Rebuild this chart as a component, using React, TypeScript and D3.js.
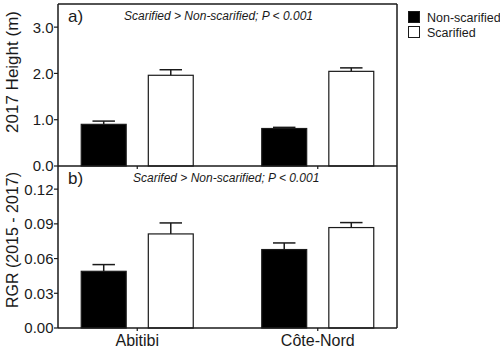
import React from 'react';
import * as d3 from 'd3';

const sites = ['Abitibi', 'Côte-Nord'];
const treatments = ['Non-scarified', 'Scarified'];

// panel a: 2017 height (m)
const heightMean = [
  [0.9, 1.96],
  [0.81, 2.045],
];
const heightErr = [
  [0.07, 0.12],
  [0.025, 0.075],
];

// panel b: RGR 2015-2017
const rgrMean = [
  [0.049, 0.0813],
  [0.0678, 0.0868],
];
const rgrErr = [
  [0.0058, 0.0095],
  [0.0057, 0.0043],
];

const heightTicks = [0, 1, 2, 3];
const rgrTicks = [0, 0.03, 0.06, 0.09, 0.12];

const W = 500;
const H = 350;
const left = 58;
const right = 397;
const topA = 4;
const mid = 166;
const bottom = 328;
const font = "'Liberation Sans', Arial, sans-serif";
const ink = '#1a1a1a';

const xScale = d3.scalePoint<string>().domain(sites).range([left, right]).padding(0.439);
const xSub = d3.scaleBand<string>().domain(treatments).range([-56, 56]).paddingInner(0.33);
const fill = d3.scaleOrdinal<string, string>().domain(treatments).range(['#000000', '#ffffff']);

interface PanelProps {
  y: d3.ScaleLinear<number, number>;
  means: number[][];
  errs: number[][];
  ticks: number[];
  fmt: (v: number) => string;
  tag: string;
  note: string;
  noteX: number;
  title: string;
  titleSize: number;
  titleY: number;
  showTop: boolean;
}

const Panel: React.FC<PanelProps> = ({
  y, means, errs, ticks, fmt, tag, note, noteX, title, titleSize, titleY, showTop,
}) => {
  const [y0, y1] = y.range();
  const bw = xSub.bandwidth();
  return (
    <g>
      {sites.map((s, i) =>
        treatments.map((t, j) => {
          const cx = (xScale(s) as number) + (xSub(t) as number) + bw / 2;
          const top = y(means[i][j]);
          const et = y(means[i][j] + errs[i][j]);
          return (
            <g key={s + t}>
              <line x1={cx} x2={cx} y1={top} y2={et} stroke={ink} strokeWidth={1.5} />
              <line x1={cx - bw / 4} x2={cx + bw / 4} y1={et} y2={et} stroke={ink} strokeWidth={1.5} />
              <rect
                x={cx - bw / 2}
                y={top}
                width={bw}
                height={y0 - top}
                fill={fill(t)}
                stroke={ink}
                strokeWidth={1.2}
              />
            </g>
          );
        })
      )}
      {/* frame */}
      <line x1={left} x2={left} y1={y1} y2={y0} stroke={ink} strokeWidth={1.5} />
      <line x1={right} x2={right} y1={y1} y2={y0} stroke={ink} strokeWidth={1.5} />
      <line x1={left} x2={right} y1={y0} y2={y0} stroke={ink} strokeWidth={1.5} />
      {showTop && <line x1={left} x2={right} y1={y1} y2={y1} stroke={ink} strokeWidth={1.5} />}
      {ticks.map((v) => (
        <g key={v}>
          <line x1={left - 4} x2={left} y1={y(v)} y2={y(v)} stroke={ink} strokeWidth={1.2} />
          <text x={left - 4.5} y={y(v)} dy="0.36em" textAnchor="end" fontSize={15} fontFamily={font} fill={ink}>
            {fmt(v)}
          </text>
        </g>
      ))}
      {sites.map((s) => (
        <line key={s} x1={xScale(s)} x2={xScale(s)} y1={y0} y2={y0 + 3} stroke={ink} strokeWidth={1.2} />
      ))}
      <text x={68} y={y1 + 18} fontSize={17} fontFamily={font} fill={ink}>
        {tag}
      </text>
      <text x={noteX} y={y1 + 16} fontSize={12} fontStyle="italic" fontFamily={font} fill={ink}>
        {note}
      </text>
      <text
        transform={`translate(${18},${titleY}) rotate(-90)`}
        textAnchor="middle"
        fontSize={titleSize}
        fontFamily={font}
        fill={ink}
      >
        {title}
      </text>
    </g>
  );
};

export default function App() {
  const yA = d3.scaleLinear().domain([0, 3.5]).range([mid, topA]);
  const yB = d3.scaleLinear().domain([0, 0.14]).range([bottom, mid]);
  return (
    <svg width={W} height={H} style={{ position: 'absolute', left: 0, top: 0, background: '#fff' }}>
      <Panel
        y={yA}
        means={heightMean}
        errs={heightErr}
        ticks={heightTicks}
        fmt={d3.format('.1f')}
        tag="a)"
        note="Scarified > Non-scarified; P < 0.001"
        noteX={124}
        title="2017 Height (m)"
        titleSize={17}
        titleY={72}
        showTop={true}
      />
      <Panel
        y={yB}
        means={rgrMean}
        errs={rgrErr}
        ticks={rgrTicks}
        fmt={d3.format('.2f')}
        tag="b)"
        note="Scarifed > Non-scarified; P < 0.001"
        noteX={133}
        title="RGR (2015 - 2017)"
        titleSize={16}
        titleY={240}
        showTop={false}
      />
      {sites.map((s) => (
        <text key={s} x={xScale(s)} y={346} textAnchor="middle" fontSize={16} fontFamily={font} fill={ink}>
          {s}
        </text>
      ))}
      {treatments.map((t, i) => (
        <g key={t} transform={`translate(408,${11 + i * 15})`}>
          <rect x={0.5} y={0.5} width={11} height={11} fill={fill(t)} stroke={ink} strokeWidth={1} />
          <text x={19} y={6} dy="0.36em" fontSize={12.5} fontFamily={font} fill={ink}>
            {t}
          </text>
        </g>
      ))}
    </svg>
  );
}
